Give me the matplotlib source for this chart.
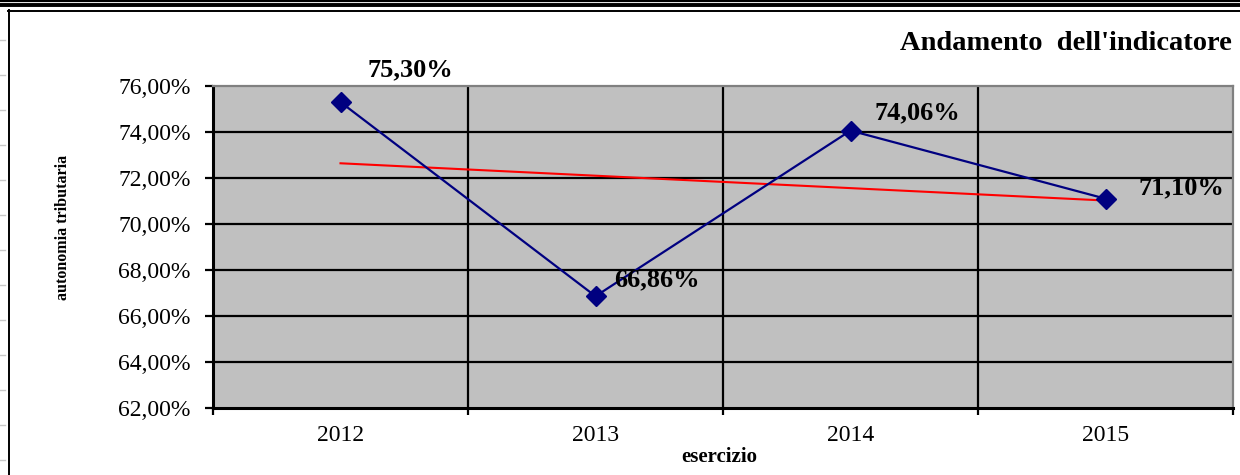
import matplotlib
matplotlib.use("Agg")
import matplotlib.pyplot as plt
from matplotlib.lines import Line2D

# Data
years = ["2012", "2013", "2014", "2015"]
values = [75.30, 66.86, 74.06, 71.10]
value_labels = ["75,30%", "66,86%", "74,06%", "71,10%"]
label_offsets = [(50, 23), (44, 12), (48, 13), (55, 8)]  # points
trend_values = [72.64, 71.02]  # linear trend at first and last year
y_ticks = [62, 64, 66, 68, 70, 72, 74, 76]
y_tick_labels = ["62,00%", "64,00%", "66,00%", "68,00%", "70,00%", "72,00%", "74,00%", "76,00%"]

plt.rcParams["font.family"] = ["Liberation Serif", "DejaVu Serif"]

W, H = 1240, 475
fig = plt.figure(figsize=(W / 100, H / 100), dpi=100)
fig.patch.set_facecolor("white")

# spreadsheet frame around the chart
def fline(x0, y0, x1, y1, **kw):
    fig.add_artist(Line2D([x0 / W, x1 / W], [1 - y0 / H, 1 - y1 / H],
                          transform=fig.transFigure, **kw))

fline(0, 1, W, 1, color="black", lw=1.6)
fline(0, 5, W, 5, color="black", lw=2.8)
fline(8, 10.5, W, 10.5, color="black", lw=1.4)
fline(8.5, 10, 8.5, H, color="black", lw=1.4)
for yy in [40, 75, 110, 145, 180, 215, 250, 285, 320, 355, 390, 425, 460]:
    fline(0, yy, 5, yy, color="#c8c8c8", lw=1)

ax = fig.add_axes([213 / W, 1 - 408 / H, 1020 / W, 322 / H])
ax.set_facecolor("#C0C0C0")

x = list(range(len(years)))
ax.set_xlim(-0.5, len(years) - 0.5)
ax.set_ylim(y_ticks[0], y_ticks[-1])

# grid lines (inner only, the borders are spines)
for yv in y_ticks[1:-1]:
    ax.axhline(yv, color="black", lw=1.6, zorder=1)
for b in range(1, len(years)):
    ax.axvline(b - 0.5, color="black", lw=1.6, zorder=1)

ax.plot([x[0], x[-1]], trend_values, color="red", lw=1.5, zorder=2)
ax.plot(x, values, color="#000080", lw=1.6, marker="D", markersize=10,
        markerfacecolor="#000080", markeredgecolor="#000080", zorder=3)

for xi, v, lab, off in zip(x, values, value_labels, label_offsets):
    ax.annotate(lab, (xi, v), xytext=off, textcoords="offset points",
                ha="center", va="center", fontsize=19, fontweight="bold", zorder=4)

# axes styling
for s in ["top", "right"]:
    ax.spines[s].set_color("#808080")
    ax.spines[s].set_linewidth(1.6)
for s in ["left", "bottom"]:
    ax.spines[s].set_color("black")
    ax.spines[s].set_linewidth(2.2)

ax.set_yticks(y_ticks)
ax.set_yticklabels(y_tick_labels, fontsize=17)
ax.tick_params(axis="y", direction="out", length=6, width=1.6, pad=10)

ax.set_xticks([b - 0.5 for b in range(len(years) + 1)])
ax.set_xticklabels([])
ax.tick_params(axis="x", which="major", direction="out", length=5, width=1.6)
ax.set_xticks(x, minor=True)
ax.set_xticklabels(years, minor=True, fontsize=17)
ax.tick_params(axis="x", which="minor", length=0, pad=12)

fig.text(719 / W, 1 - 457 / H, "esercizio", ha="center", va="center",
         fontsize=15, fontweight="bold")
fig.text(63 / W, 1 - 227 / H, "autonomia tributaria", ha="center", va="center",
         rotation=90, fontsize=11.5, fontweight="bold")
fig.text(1232 / W, 1 - 44 / H, "Andamento  dell'indicatore", ha="right", va="center",
         fontsize=20.5, fontweight="bold")

fig.savefig("out.png", dpi=100)
